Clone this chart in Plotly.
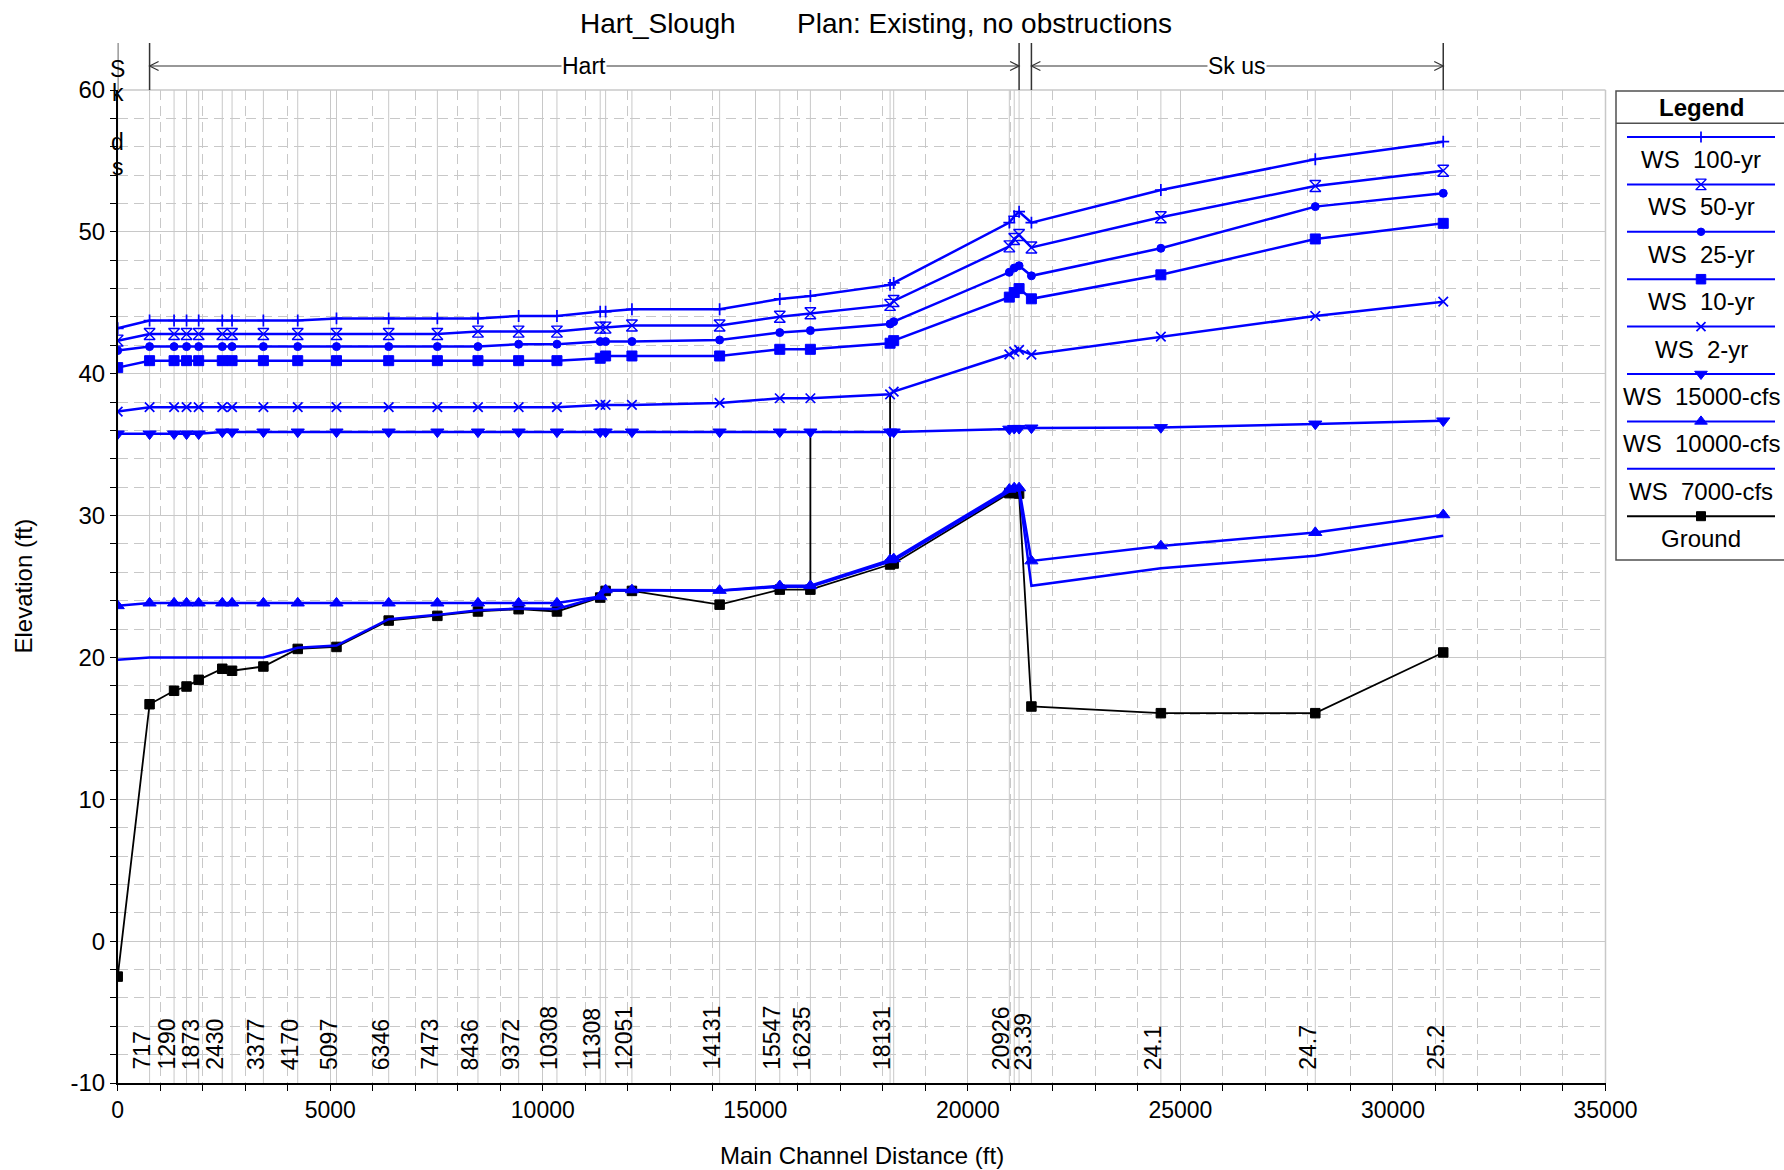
import plotly.graph_objects as go

W, H = 1784, 1170

# ---------------- data ----------------
# main channel distance (ft) of each cross section and its river-station label
xs_dist = [0, 750, 1326, 1620, 1905, 2460, 2690, 3427, 4235, 5147,
           6375, 7520, 8475, 9432, 10333, 11351, 11478, 12097, 14160, 15575,
           16295, 18170, 18255, 20975, 21090, 21205, 21495, 24540, 28173, 31183]
xs_label = ['', '717', '1290', '', '1873', '2430', '', '3377', '4170', '5097',
            '6346', '7473', '8436', '9372', '10308', '11308', '', '12051', '14131', '15547',
            '16235', '18131', '', '20926', '', '', '23.39', '24.1', '24.7', '25.2']

ground = [-2.5, 16.7, 17.65, 17.95, 18.42, 19.2, 19.06, 19.36, 20.6, 20.74,
          22.6, 22.93, 23.24, 23.40, 23.24, 24.22, 24.69, 24.69, 23.72, 24.78,
          24.78, 26.55, 26.62, 31.58, 31.6, 31.55, 16.54, 16.07, 16.07, 20.35]
ws_7000 = [19.83, 20.0, 20.0, 20.0, 20.0, 20.0, 20.0, 20.0, 20.68, 20.84,
           22.7, 23.0, 23.32, 23.45, 23.42, 24.28, 24.74, 24.74, 24.7, 24.98,
           24.98, 26.75, 26.82, 31.7, 31.8, 31.75, 25.05, 26.29, 27.16, 28.57]
ws_10000 = [23.64, 23.83, 23.83, 23.83, 23.83, 23.83, 23.83, 23.83, 23.83, 23.83,
            23.83, 23.83, 23.83, 23.83, 23.83, 24.3, 24.76, 24.76, 24.72, 25.05,
            25.05, 26.88, 26.95, 31.85, 31.95, 31.95, 26.8, 27.86, 28.8, 30.05]
ws_15000 = [35.76, 35.76, 35.76, 35.76, 35.76, 35.9, 35.9, 35.9, 35.9, 35.9,
            35.9, 35.9, 35.9, 35.9, 35.9, 35.9, 35.9, 35.9, 35.9, 35.9,
            35.9, 35.9, 35.9, 36.1, 36.15, 36.15, 36.18, 36.21, 36.46, 36.68]
ws_2yr = [37.33, 37.64, 37.64, 37.64, 37.64, 37.64, 37.64, 37.64, 37.64, 37.64,
          37.64, 37.64, 37.64, 37.64, 37.64, 37.8, 37.8, 37.8, 37.94, 38.27,
          38.27, 38.55, 38.74, 41.37, 41.56, 41.68, 41.35, 42.61, 44.07, 45.08]
ws_10yr = [40.43, 40.92, 40.92, 40.92, 40.92, 40.92, 40.92, 40.92, 40.92, 40.92,
           40.92, 40.92, 40.92, 40.92, 40.92, 41.09, 41.25, 41.25, 41.25, 41.72,
           41.72, 42.15, 42.33, 45.4, 45.72, 46.0, 45.28, 46.97, 49.5, 50.6]
ws_25yr = [41.63, 41.91, 41.91, 41.91, 41.91, 41.91, 41.91, 41.91, 41.91, 41.91,
           41.91, 41.91, 41.91, 42.08, 42.08, 42.27, 42.27, 42.27, 42.38, 42.9,
           43.04, 43.51, 43.67, 47.15, 47.45, 47.61, 46.9, 48.84, 51.78, 52.72]
ws_50yr = [42.33, 42.8, 42.8, 42.8, 42.8, 42.8, 42.8, 42.8, 42.8, 42.8,
           42.8, 42.8, 42.97, 42.97, 42.97, 43.25, 43.25, 43.4, 43.4, 44.02,
           44.26, 44.85, 45.13, 48.98, 49.5, 49.78, 48.9, 51.03, 53.23, 54.31]
ws_100yr = [43.2, 43.75, 43.75, 43.75, 43.75, 43.75, 43.75, 43.75, 43.75, 43.9,
            43.9, 43.9, 43.9, 44.07, 44.07, 44.38, 44.38, 44.54, 44.54, 45.27,
            45.48, 46.26, 46.4, 50.65, 51.1, 51.42, 50.65, 52.95, 55.12, 56.36]

# structures drawn as vertical lines
struct_dist = [16295, 18170]
struct_top = [35.9, 38.55]
struct_bottom = [24.78, 26.55]

# reaches shown in the top bar
reach_name = ['Sk ds', 'Hart', 'Sk us']
reach_start = [0, 750, 21495]
reach_end = [0, 21205, 31183]

x_range = [0, 35000]
y_range = [-10, 60]
x_tick_vals = [0, 5000, 10000, 15000, 20000, 25000, 30000, 35000]
y_tick_vals = [-10, 0, 10, 20, 30, 40, 50, 60]
x_minor_step = 1000
y_minor_step = 2

# ---------------- layout geometry (pixels) ----------------
PX_L, PX_R = 117.7, 1605.5
PX_T, PX_B = 90.0, 1083.0


def fx(px):
    return px / W


def fy(py):
    return 1 - py / H


BLUE = '#0000ff'
GRID = '#c8c8c8'
DARK = '#333333'
FONT = 'Liberation Sans, Arial, Helvetica, sans-serif'

series = [
    dict(name='WS\u00a0 100-yr', y=ws_100yr, color=BLUE, symbol='cross-thin-open', size=8.5, mlw=1.7, lw=2.5),
    dict(name='WS\u00a0 50-yr', y=ws_50yr, color=BLUE, symbol='hourglass-open', size=11, mlw=1.4, lw=2.5),
    dict(name='WS\u00a0 25-yr', y=ws_25yr, color=BLUE, symbol='circle', size=8, mlw=1, lw=2.5),
    dict(name='WS\u00a0 10-yr', y=ws_10yr, color=BLUE, symbol='square', size=10, mlw=1, lw=2.5),
    dict(name='WS\u00a0 2-yr', y=ws_2yr, color=BLUE, symbol='x-thin-open', size=9.5, mlw=1.7, lw=2.5),
    dict(name='WS\u00a0 15000-cfs', y=ws_15000, color=BLUE, symbol='triangle-down', size=11.5, mlw=1, lw=2.5),
    dict(name='WS\u00a0 10000-cfs', y=ws_10000, color=BLUE, symbol='triangle-up', size=11.5, mlw=1, lw=2.5),
    dict(name='WS\u00a0 7000-cfs', y=ws_7000, color=BLUE, symbol=None, size=0, mlw=0, lw=2.5),
    dict(name='Ground', y=ground, color='black', symbol='square', size=9.5, mlw=1, lw=1.8),
]

fig = go.Figure()

# data traces (ground first so water lines sit on top)
ground_s = series[-1]
fig.add_trace(go.Scatter(
    x=xs_dist, y=ground_s['y'], mode='lines+markers', name='Ground',
    line=dict(color='black', width=ground_s['lw']),
    marker=dict(symbol='square', size=ground_s['size'], color='black',
                line=dict(color='black', width=ground_s['mlw'])),
    hoverinfo='skip'))

sx, sy = [], []
for d, b, t in zip(struct_dist, struct_bottom, struct_top):
    sx += [d, d, None]
    sy += [b, t, None]
fig.add_trace(go.Scatter(x=sx, y=sy, mode='lines', line=dict(color='black', width=1.8),
                         hoverinfo='skip'))

for s in reversed(series[:-1]):
    if s['symbol'] is None:
        fig.add_trace(go.Scatter(x=xs_dist, y=s['y'], mode='lines',
                                 line=dict(color=s['color'], width=s['lw']), hoverinfo='skip'))
    else:
        fig.add_trace(go.Scatter(
            x=xs_dist, y=s['y'], mode='lines+markers',
            line=dict(color=s['color'], width=s['lw']),
            marker=dict(symbol=s['symbol'], size=s['size'], color=s['color'],
                        line=dict(color=s['color'], width=s['mlw'])),
            hoverinfo='skip'))

shapes = []
annotations = []

# cross-section station lines
for d in xs_dist:
    shapes.append(dict(type='line', xref='x', yref='y', x0=d, x1=d, y0=y_range[0], y1=y_range[1],
                       line=dict(color=GRID, width=1), layer='below'))

# top / right plot border (light)
shapes.append(dict(type='line', xref='paper', yref='paper', x0=fx(PX_L), x1=fx(PX_R),
                   y0=fy(PX_T), y1=fy(PX_T), line=dict(color=GRID, width=1.5), layer='below'))
shapes.append(dict(type='line', xref='paper', yref='paper', x0=fx(PX_R), x1=fx(PX_R),
                   y0=fy(PX_T), y1=fy(PX_B), line=dict(color=GRID, width=1.5), layer='below'))

# river-station labels along the bottom
for d, lab in zip(xs_dist, xs_label):
    if lab:
        annotations.append(dict(x=d, y=y_range[0], xref='x', yref='y', text=lab, showarrow=False,
                                textangle=-90, xanchor='right', yanchor='bottom', xshift=7, yshift=11,
                                font=dict(size=23, color='black', family=FONT)))

# reach bar above the plot
BAR_TOP, BAR_BOT, BAR_Y = 43, 90, 66
ft_per_px = (x_range[1] - x_range[0]) / (PX_R - PX_L)
ah_len = 9 * ft_per_px
ah_h = 4.5 / H
for name, a, b in zip(reach_name, reach_start, reach_end):
    for d in sorted(set([a, b])):
        shapes.append(dict(type='line', xref='x', yref='paper', x0=d, x1=d,
                           y0=fy(BAR_TOP), y1=fy(BAR_BOT), line=dict(color=DARK, width=1.5)))
    if b > a:
        yy = fy(BAR_Y)
        shapes.append(dict(type='line', xref='x', yref='paper', x0=a, x1=b, y0=yy, y1=yy,
                           line=dict(color=DARK, width=1.2)))
        shapes.append(dict(type='path', xref='x', yref='paper',
                           path=f'M {a + ah_len},{yy + ah_h} L {a},{yy} L {a + ah_len},{yy - ah_h}',
                           line=dict(color=DARK, width=1.2)))
        shapes.append(dict(type='path', xref='x', yref='paper',
                           path=f'M {b - ah_len},{yy + ah_h} L {b},{yy} L {b - ah_len},{yy - ah_h}',
                           line=dict(color=DARK, width=1.2)))
        annotations.append(dict(x=(a + b) / 2, y=yy, xref='x', yref='paper', text=name, showarrow=False,
                                xanchor='center', yanchor='middle', bgcolor='white', borderpad=0,
                                font=dict(size=23, color='black', family=FONT)))
    else:
        chars = list(name)
        for i, ch in enumerate(chars):
            if ch.strip():
                annotations.append(dict(x=a, y=fy(68.5 + i * 24.6), xref='x', yref='paper', text=ch,
                                        showarrow=False, xanchor='center', yanchor='middle',
                                        font=dict(size=23, color='black', family=FONT)))

# titles
annotations.append(dict(x=fx(578), y=fy(23), xref='paper', yref='paper', text='Hart_Slough',
                        showarrow=False, xanchor='left', yanchor='middle',
                        font=dict(size=28, color='black', family=FONT)))
annotations.append(dict(x=fx(795), y=fy(23), xref='paper', yref='paper',
                        text='Plan: Existing, no obstructions', showarrow=False,
                        xanchor='left', yanchor='middle', font=dict(size=28, color='black', family=FONT)))
annotations.append(dict(x=fx(23), y=fy((PX_T + PX_B) / 2), xref='paper', yref='paper',
                        text='Elevation (ft)', showarrow=False, textangle=-90,
                        xanchor='center', yanchor='middle', font=dict(size=24, color='black', family=FONT)))
annotations.append(dict(x=fx((PX_L + PX_R) / 2), y=fy(1155), xref='paper', yref='paper',
                        text='Main Channel Distance (ft)', showarrow=False,
                        xanchor='center', yanchor='middle', font=dict(size=24, color='black', family=FONT)))

# ---------------- custom legend (overlay pixel axes) ----------------
LEG_L, LEG_R, LEG_T, LEG_B = 1616, 1790, 91, 560
LEG_HDR = 123.3
LEG_X0, LEG_X1, LEG_CX = 1627, 1775, 1701
LEG_FIRST, LEG_STEP, LEG_TXT = 137, 47.4, 22.5

shapes.append(dict(type='rect', xref='x2', yref='y2', x0=LEG_L, x1=LEG_R, y0=LEG_T, y1=LEG_B,
                   line=dict(color='#505050', width=1.5), fillcolor='white', layer='below'))
shapes.append(dict(type='line', xref='x2', yref='y2', x0=LEG_L, x1=LEG_R, y0=LEG_HDR, y1=LEG_HDR,
                   line=dict(color='#505050', width=1.5)))
annotations.append(dict(x=LEG_CX, y=(LEG_T + LEG_HDR) / 2, xref='x2', yref='y2', text='<b>Legend</b>',
                        showarrow=False, xanchor='center', yanchor='middle',
                        font=dict(size=24, color='black', family=FONT)))

for i, s in enumerate(series):
    ly = LEG_FIRST + i * LEG_STEP
    fig.add_trace(go.Scatter(x=[LEG_X0, LEG_X1], y=[ly, ly], xaxis='x2', yaxis='y2', mode='lines',
                             line=dict(color=s['color'], width=2), hoverinfo='skip'))
    if s['symbol'] is not None:
        fig.add_trace(go.Scatter(x=[LEG_CX], y=[ly], xaxis='x2', yaxis='y2', mode='markers',
                                 marker=dict(symbol=s['symbol'], size=s['size'] - 0.5, color=s['color'],
                                             line=dict(color=s['color'], width=s['mlw'])),
                                 hoverinfo='skip'))
    annotations.append(dict(x=LEG_CX, y=ly + LEG_TXT, xref='x2', yref='y2', text=s['name'],
                            showarrow=False, xanchor='center', yanchor='middle',
                            font=dict(size=24, color='black', family=FONT)))

fig.update_layout(
    width=W, height=H, margin=dict(l=0, r=0, t=0, b=0, autoexpand=False),
    paper_bgcolor='white', plot_bgcolor='rgba(0,0,0,0)', showlegend=False,
    font=dict(family=FONT, size=23, color='black'),
    xaxis=dict(domain=[fx(PX_L), fx(PX_R)], range=x_range,
               tickmode='array', tickvals=x_tick_vals, ticktext=[str(v) for v in x_tick_vals],
               showgrid=True, gridcolor=GRID, gridwidth=1, zeroline=False, automargin=False,
               showline=True, linecolor='black', linewidth=1.5,
               ticks='outside', ticklen=6, tickcolor='black', tickwidth=1,
               tickfont=dict(size=23, family=FONT, color='black'),
               minor=dict(tick0=0, dtick=x_minor_step, showgrid=True, gridcolor=GRID, gridwidth=1,
                          griddash='10px,6px', ticks='outside', ticklen=6, tickcolor='black'),
               fixedrange=True, anchor='y'),
    yaxis=dict(domain=[fy(PX_B), fy(PX_T)], range=y_range,
               tickmode='array', tickvals=y_tick_vals, ticktext=[str(v) for v in y_tick_vals],
               showgrid=True, gridcolor=GRID, gridwidth=1, zeroline=False, automargin=False,
               showline=True, linecolor='black', linewidth=1.5,
               ticks='outside', ticklen=6, tickcolor='black', tickwidth=1,
               tickfont=dict(size=24, family=FONT, color='black'),
               minor=dict(tick0=0, dtick=y_minor_step, showgrid=True, gridcolor=GRID, gridwidth=1,
                          griddash='10px,6px', ticks='outside', ticklen=6, tickcolor='black'),
               fixedrange=True, anchor='x'),
    xaxis2=dict(domain=[0, 1], range=[0, W], visible=False, fixedrange=True, anchor='y2'),
    yaxis2=dict(domain=[0, 1], range=[H, 0], visible=False, fixedrange=True, anchor='x2'),
    shapes=shapes, annotations=annotations,
)

fig.write_html('out.html',
               post_script="document.body.style.margin='0';document.body.style.overflow='hidden';")
